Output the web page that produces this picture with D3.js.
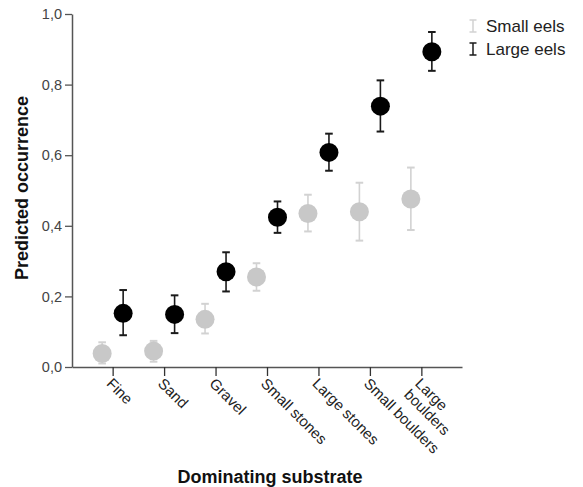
<!DOCTYPE html>
<html>
<head>
<meta charset="utf-8">
<script src="https://cdn.jsdelivr.net/npm/d3@7"></script>
<style>
  body { margin: 0; background: #fff; }
  #container { width: 583px; height: 487px; }
  text { font-family: Arial, "Liberation Sans", sans-serif; }
</style>
</head>
<body>
<div id="container"></div>
<script>
// chart values
const categories = ["Fine", "Sand", "Gravel", "Small stones", "Large stones", "Small boulders", "Large boulders"];
const series = ["Small eels", "Large eels"];

const small_mean  = [0.038, 0.045, 0.135, 0.255, 0.435, 0.440, 0.476];
const small_lower = [0.010, 0.015, 0.095, 0.216, 0.384, 0.358, 0.388];
const small_upper = [0.070, 0.074, 0.179, 0.294, 0.488, 0.522, 0.565];

const large_mean  = [0.152, 0.149, 0.270, 0.424, 0.608, 0.739, 0.893];
const large_lower = [0.090, 0.096, 0.214, 0.380, 0.556, 0.667, 0.839];
const large_upper = [0.218, 0.203, 0.325, 0.469, 0.661, 0.812, 0.949];

const y_ticks = [0, 0.2, 0.4, 0.6, 0.8, 1.0];

// multi line tick labels
const label_lines = {"Large boulders": ["Large", "boulders"]};

const container = "#container";

function draw() {
	const width = 583,
		height = 487;

	let svg = d3.select(container)
		.append("svg")
		.attr("width", width)
		.attr("height", height);

	const xScale = d3.scalePoint()
		.domain(categories)
		.range([72, 462])
		.padding(0.79);

	const offset = d3.scalePoint()
		.domain(series)
		.range([-10.5, 10.5]);

	const yScale = d3.scaleLinear()
		.domain([0, 1])
		.range([367, 14]);

	const colors = {
		"Small eels": {dot: "#c8c8c8", bar: "#d2d2d2"},
		"Large eels": {dot: "#000000", bar: "#1a1a1a"}
	};

	// build rows
	let rows = [];
	categories.forEach((c, i) => {
		rows.push({cat: c, s: "Small eels", m: small_mean[i], lo: small_lower[i], hi: small_upper[i]});
		rows.push({cat: c, s: "Large eels", m: large_mean[i], lo: large_lower[i], hi: large_upper[i]});
	});

	// y axis
	const yAxis = d3.axisLeft(yScale)
		.tickValues(y_ticks)
		.tickSize(7)
		.tickSizeOuter(0)
		.tickPadding(3)
		.tickFormat(d => d3.format(".1f")(d).replace(".", ","));

	let y_box = svg.append("g")
		.attr("class", "y_axis")
		.attr("transform", "translate(72,0)")
		.call(yAxis);

	y_box.select(".domain").attr("stroke", "#555").attr("stroke-width", 1.5);
	y_box.selectAll(".tick line").attr("stroke", "#555").attr("stroke-width", 1.3);
	y_box.selectAll(".tick text")
		.attr("fill", "#444")
		.style("font-size", "14.5px");

	// x axis
	const xAxis = d3.axisBottom(xScale)
		.tickSize(9)
		.tickSizeOuter(0)
		.tickFormat("");

	let x_box = svg.append("g")
		.attr("class", "x_axis")
		.attr("transform", "translate(0,367)")
		.call(xAxis);

	x_box.select(".domain").attr("stroke", "#555").attr("stroke-width", 1.5);
	x_box.selectAll(".tick line").attr("stroke", "#333").attr("stroke-width", 1.3);

	let x_labels = x_box.selectAll(".tick")
		.append("text")
		.attr("transform", "translate(1,9) rotate(45)")
		.attr("text-anchor", "start")
		.attr("fill", "#222")
		.style("font-size", "15px");

	x_labels.selectAll("tspan")
		.data(d => label_lines[d] || [d])
		.enter()
		.append("tspan")
		.attr("x", 0)
		.attr("dy", (d, i) => i == 0 ? "0.8em" : "1.05em")
		.text(d => d);

	// error bars
	let bars = svg.append("g").attr("class", "bars");
	const cap = 3.8;

	let bar = bars.selectAll("g")
		.data(rows)
		.enter()
		.append("g")
		.attr("transform", d => "translate(" + (xScale(d.cat) + offset(d.s)) + ",0)")
		.attr("stroke", d => colors[d.s].bar);

	bar.append("line")
		.attr("x1", 0).attr("x2", 0)
		.attr("y1", d => yScale(d.lo))
		.attr("y2", d => yScale(d.hi))
		.attr("stroke-width", 1.6);

	bar.append("line")
		.attr("x1", -cap).attr("x2", cap)
		.attr("y1", d => yScale(d.hi)).attr("y2", d => yScale(d.hi))
		.attr("stroke-width", 2);

	bar.append("line")
		.attr("x1", -cap).attr("x2", cap)
		.attr("y1", d => yScale(d.lo)).attr("y2", d => yScale(d.lo))
		.attr("stroke-width", 2);

	// points
	bars.selectAll("circle")
		.data(rows)
		.enter()
		.append("circle")
		.attr("cx", d => xScale(d.cat) + offset(d.s))
		.attr("cy", d => yScale(d.m))
		.attr("r", 9.5)
		.attr("fill", d => colors[d.s].dot);

	// axis titles
	svg.append("text")
		.attr("transform", "translate(28,188) rotate(-90)")
		.attr("text-anchor", "middle")
		.style("font-size", "18px")
		.style("font-weight", "bold")
		.attr("fill", "#111")
		.text("Predicted occurrence");

	svg.append("text")
		.attr("x", 270)
		.attr("y", 483)
		.attr("text-anchor", "middle")
		.style("font-size", "18px")
		.style("font-weight", "bold")
		.attr("fill", "#111")
		.text("Dominating substrate");

	// legend
	let legend = svg.append("g").attr("class", "legend");

	let item = legend.selectAll("g")
		.data(series)
		.enter()
		.append("g")
		.attr("transform", (d, i) => "translate(473," + (26 + i * 23) + ")");

	item.append("line")
		.attr("x1", 0).attr("x2", 0).attr("y1", -6).attr("y2", 6)
		.attr("stroke", d => colors[d].bar).attr("stroke-width", 1.5);
	item.append("line")
		.attr("x1", -3.5).attr("x2", 3.5).attr("y1", -6).attr("y2", -6)
		.attr("stroke", d => colors[d].bar).attr("stroke-width", 1.5);
	item.append("line")
		.attr("x1", -3.5).attr("x2", 3.5).attr("y1", 6).attr("y2", 6)
		.attr("stroke", d => colors[d].bar).attr("stroke-width", 1.5);

	item.append("text")
		.attr("x", 13)
		.attr("y", 0)
		.attr("dy", "0.36em")
		.style("font-size", "17px")
		.attr("fill", "#222")
		.text(d => d);
}

window.addEventListener("load", function () {
	draw();
});
</script>
</body>
</html>
